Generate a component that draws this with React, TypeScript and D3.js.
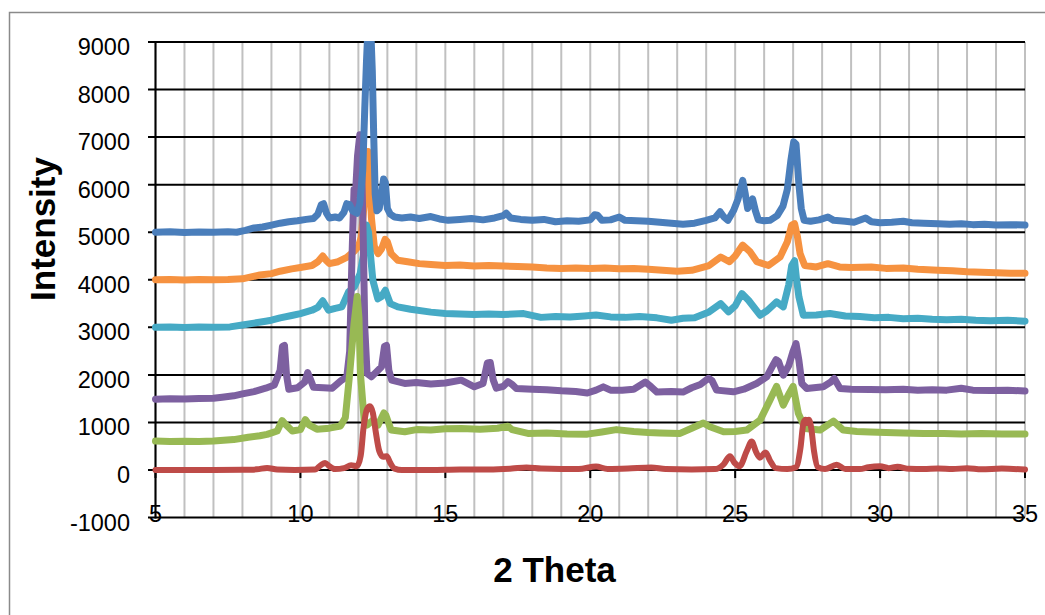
import React from "react";
import * as d3 from "d3";

type Pt = [number, number];

const xTicks = [5, 10, 15, 20, 25, 30, 35];
const yTicks = [-1000, 0, 1000, 2000, 3000, 4000, 5000, 6000, 7000, 8000, 9000];
const xTitle = "2 Theta";
const yTitle = "Intensity";

const blueData: Pt[] = [[5,5000],[5.5,5010],[6,4995],[6.5,5005],[7,5000],[7.5,5010],[7.8,5000],[8.1,5040],[8.4,5090],[8.7,5110],[9,5150],[9.3,5190],[9.6,5220],[9.9,5240],[10.2,5270],[10.45,5290],[10.6,5380],[10.72,5580],[10.8,5600],[10.9,5400],[11.0,5300],[11.2,5320],[11.35,5300],[11.5,5420],[11.6,5600],[11.7,5580],[11.8,5450],[11.95,5400],[12.05,5600],[12.15,6300],[12.22,7600],[12.28,8600],[12.33,9300],[12.42,9400],[12.48,8400],[12.53,7000],[12.58,5800],[12.64,5450],[12.72,5500],[12.8,5800],[12.87,6120],[12.93,6050],[13.0,5500],[13.1,5380],[13.25,5320],[13.5,5300],[13.8,5320],[14.1,5290],[14.5,5330],[14.8,5280],[15.1,5250],[15.5,5270],[15.9,5290],[16.3,5260],[16.7,5300],[17.0,5350],[17.1,5400],[17.25,5300],[17.6,5270],[18.0,5250],[18.4,5270],[18.8,5220],[19.2,5240],[19.6,5230],[20.0,5260],[20.15,5370],[20.25,5360],[20.4,5250],[20.7,5260],[21.0,5320],[21.2,5250],[21.6,5240],[22.0,5230],[22.4,5210],[22.8,5190],[23.2,5170],[23.6,5190],[24.0,5250],[24.3,5300],[24.48,5430],[24.6,5330],[24.75,5250],[24.95,5460],[25.1,5700],[25.26,6090],[25.35,5800],[25.43,5500],[25.6,5700],[25.7,5450],[25.8,5260],[26.0,5240],[26.2,5250],[26.45,5350],[26.65,5550],[26.8,5900],[26.92,6500],[27.02,6900],[27.1,6850],[27.2,6000],[27.28,5500],[27.38,5250],[27.6,5230],[27.9,5260],[28.2,5320],[28.4,5250],[28.8,5230],[29.1,5210],[29.5,5300],[29.7,5220],[30.0,5200],[30.4,5210],[30.8,5230],[31.1,5200],[31.5,5190],[32.0,5180],[32.4,5170],[32.8,5180],[33.2,5160],[33.6,5170],[34.0,5150],[34.5,5160],[35,5150]];

const orangeData: Pt[] = [[5,4000],[5.5,4005],[6,3995],[6.5,4005],[7,4000],[7.5,4005],[8.0,4020],[8.3,4060],[8.6,4100],[9.0,4130],[9.3,4180],[9.7,4230],[10.0,4260],[10.4,4300],[10.6,4380],[10.77,4500],[10.9,4400],[11.0,4340],[11.3,4380],[11.6,4470],[11.85,4600],[12.0,4700],[12.1,4900],[12.2,5600],[12.27,6300],[12.33,6700],[12.38,6300],[12.45,5300],[12.55,4700],[12.68,4550],[12.8,4650],[12.92,4850],[13.0,4800],[13.13,4550],[13.36,4410],[13.7,4380],[14.1,4340],[14.5,4320],[15.0,4300],[15.5,4310],[16.0,4290],[16.5,4300],[17.0,4290],[17.5,4280],[18.0,4270],[18.5,4250],[19.0,4240],[19.5,4250],[20.0,4240],[20.5,4250],[21.0,4230],[21.5,4240],[22.0,4220],[22.5,4200],[23.0,4180],[23.5,4200],[24.1,4300],[24.5,4480],[24.8,4380],[25.0,4500],[25.26,4730],[25.5,4600],[25.75,4380],[26.15,4300],[26.55,4480],[26.8,4800],[26.95,5150],[27.05,5180],[27.15,4900],[27.24,4550],[27.4,4300],[27.8,4270],[28.2,4340],[28.6,4270],[29.0,4260],[29.7,4270],[30.2,4240],[30.8,4250],[31.3,4220],[32.0,4200],[32.5,4190],[33.0,4170],[33.5,4160],[34.0,4150],[34.5,4140],[35,4140]];

const cyanData: Pt[] = [[5,3000],[5.5,3005],[6,2995],[6.5,3005],[7,3000],[7.57,3010],[8.0,3050],[8.4,3090],[8.8,3130],[9.0,3150],[9.3,3200],[9.7,3250],[10.0,3290],[10.4,3360],[10.6,3420],[10.77,3560],[10.97,3360],[11.2,3400],[11.43,3430],[11.66,3745],[11.86,3850],[12.06,4130],[12.2,4600],[12.28,5150],[12.35,5000],[12.42,4500],[12.5,3990],[12.67,3600],[12.8,3650],[12.93,3780],[13.1,3500],[13.36,3430],[13.8,3380],[14.5,3320],[15.0,3290],[15.5,3280],[16.0,3270],[16.5,3280],[17.0,3270],[17.7,3290],[18.3,3210],[18.8,3230],[19.3,3220],[19.8,3240],[20.2,3260],[20.7,3220],[21.2,3210],[21.7,3230],[22.3,3200],[22.8,3150],[23.2,3190],[23.6,3200],[24.1,3325],[24.5,3500],[24.77,3325],[25.0,3450],[25.23,3710],[25.46,3570],[25.86,3255],[26.1,3350],[26.43,3535],[26.66,3430],[26.85,3900],[26.95,4300],[27.05,4400],[27.12,4000],[27.2,3640],[27.35,3255],[27.8,3260],[28.27,3290],[28.8,3240],[29.3,3230],[29.8,3200],[30.3,3210],[30.8,3180],[31.3,3190],[31.8,3170],[32.3,3160],[32.8,3170],[33.3,3150],[33.8,3140],[34.4,3150],[35,3130]];

const purpleData: Pt[] = [[5,1490],[5.5,1500],[6,1495],[6.5,1505],[7,1510],[7.3,1530],[7.7,1560],[8.0,1600],[8.4,1650],[8.8,1720],[9.1,1790],[9.3,2100],[9.38,2600],[9.45,2620],[9.52,2000],[9.6,1700],[9.9,1730],[10.15,1850],[10.25,2050],[10.35,1900],[10.45,1740],[10.8,1730],[11.1,1720],[11.4,1880],[11.6,1960],[11.7,2500],[11.78,4500],[11.85,5900],[11.9,5800],[11.97,6600],[12.05,7050],[12.12,6200],[12.17,4800],[12.22,3000],[12.3,2030],[12.45,1960],[12.62,2060],[12.8,2170],[12.9,2600],[12.97,2620],[13.05,2100],[13.15,1890],[13.6,1820],[14.0,1840],[14.5,1810],[15.0,1830],[15.55,1890],[16.0,1750],[16.3,1820],[16.45,2250],[16.55,2260],[16.65,1900],[16.76,1720],[17.0,1760],[17.16,1860],[17.3,1800],[17.45,1715],[18.0,1700],[18.5,1690],[19.0,1665],[19.5,1650],[19.9,1620],[20.2,1680],[20.45,1750],[20.7,1680],[21.1,1680],[21.5,1700],[21.9,1850],[22.1,1750],[22.3,1640],[22.8,1650],[23.2,1640],[23.5,1730],[23.8,1800],[24.08,1930],[24.2,1880],[24.36,1680],[24.94,1645],[25.3,1700],[25.74,1820],[26.09,1960],[26.3,2200],[26.41,2320],[26.5,2280],[26.66,1995],[26.85,2200],[27.0,2500],[27.1,2660],[27.2,2300],[27.3,1820],[27.47,1715],[28.04,1750],[28.3,1850],[28.42,1925],[28.62,1715],[29.0,1700],[29.65,1695],[30.2,1690],[30.8,1700],[31.3,1680],[31.8,1690],[32.3,1680],[32.8,1720],[33.2,1680],[33.8,1670],[34.4,1680],[35,1660]];

const greenData: Pt[] = [[5,610],[5.5,600],[6,605],[6.5,600],[7,610],[7.7,640],[8.2,690],[8.6,720],[8.85,750],[9.2,820],[9.37,1040],[9.5,950],[9.72,820],[10.0,850],[10.17,1060],[10.3,950],[10.57,860],[11.0,880],[11.38,925],[11.55,1100],[11.7,2030],[11.85,3080],[11.96,3650],[12.02,3200],[12.07,2030],[12.2,1050],[12.3,945],[12.5,1050],[12.68,945],[12.88,1200],[12.95,1150],[13.13,840],[13.6,805],[14.0,850],[14.5,840],[15.0,870],[15.55,875],[16.2,860],[16.8,880],[17.16,920],[17.3,850],[17.85,770],[18.5,780],[19.2,760],[19.9,755],[20.4,800],[20.9,850],[21.5,810],[22.0,790],[22.4,780],[23.1,770],[23.5,880],[23.9,990],[24.13,910],[24.6,805],[25.0,810],[25.4,840],[25.86,1050],[26.2,1470],[26.43,1760],[26.66,1365],[26.85,1600],[27.0,1760],[27.18,1190],[27.41,875],[27.93,840],[28.39,1030],[28.73,840],[29.2,810],[29.65,800],[30.2,790],[30.8,780],[31.5,770],[32.2,770],[32.8,760],[33.5,770],[34.2,760],[35,760]];

const redData: Pt[] = [[5,0],[6,0],[7,0],[8,5],[8.5,15],[8.85,45],[9.2,10],[9.8,0],[10.5,10],[10.7,100],[10.85,150],[11.0,80],[11.2,20],[11.5,40],[11.75,100],[11.95,80],[12.08,300],[12.18,900],[12.3,1280],[12.4,1340],[12.5,1200],[12.6,800],[12.72,400],[12.85,280],[12.98,290],[13.1,150],[13.25,30],[13.5,0],[14.5,0],[15.5,10],[16.5,10],[17.3,30],[17.8,55],[18.3,30],[19.0,20],[19.6,20],[20.2,75],[20.6,20],[21.3,30],[22.1,55],[22.6,20],[23.5,10],[24.3,20],[24.6,120],[24.82,290],[24.98,150],[25.15,80],[25.4,400],[25.57,600],[25.72,380],[25.85,260],[26.05,370],[26.2,200],[26.4,40],[26.8,20],[27.1,60],[27.25,450],[27.36,1000],[27.43,1060],[27.48,990],[27.54,1060],[27.62,900],[27.72,400],[27.85,60],[28.1,20],[28.5,110],[28.8,20],[29.3,20],[29.6,60],[30.0,80],[30.3,40],[30.6,70],[31.0,25],[31.5,20],[32.0,30],[32.5,20],[33.0,40],[33.5,15],[34.2,30],[35,10]];

const seriesNames = ["orange", "cyan", "purple", "green", "red", "blue"];
const seriesData: Pt[][] = [orangeData, cyanData, purpleData, greenData, redData, blueData];
const seriesColors = ["#F69240", "#46AAC5", "#7D60A0", "#98B954", "#BE4B48", "#4A7EBB"];

export default function App() {
  const L = 155.5, R = 1025, T = 42, B = 517.6;
  const x = d3.scaleLinear().domain([5, 35]).range([L, R]);
  const y = d3.scaleLinear().domain([-1000, 9000]).range([B, T]);
  const minorX = d3.range(5, 35.001, 1);
  const lineLinear = d3.line<Pt>().x((d) => x(d[0])).y((d) => y(d[1]));
  const lineSmooth = d3.line<Pt>().x((d) => x(d[0])).y((d) => y(d[1])).curve(d3.curveMonotoneX);
  const font = "'Liberation Sans', Arial, sans-serif";

  return (
    <svg
      width={1045}
      height={615}
      style={{ position: "absolute", left: 0, top: 0, background: "#fff" }}
    >
      <defs>
        <clipPath id="plotClip">
          <rect x={L - 4} y={T - 1} width={R - L + 8} height={B - T + 1} />
        </clipPath>
      </defs>
      <rect x={9.5} y={12.5} width={1060} height={640} fill="#fff" stroke="#8a8a8a" strokeWidth={1.5} />
      {minorX.map((t) => (
        <line key={"vx" + t} x1={x(t)} x2={x(t)} y1={T} y2={B} stroke="#c0c0c0" strokeWidth={2} />
      ))}
      {yTicks.map((v) => (
        <line key={"hy" + v} x1={L - 7.5} x2={R} y1={y(v)} y2={y(v)} stroke="#000" strokeWidth={2} />
      ))}
      <line x1={L} x2={L} y1={T} y2={B + 1} stroke="#000" strokeWidth={2} />
      {xTicks.map((t) => (
        <line key={"xt" + t} x1={x(t)} x2={x(t)} y1={y(0)} y2={y(0) + 8} stroke="#000" strokeWidth={2} />
      ))}
      <g clipPath="url(#plotClip)">
        {seriesData.map((d, i) => (
          <path
            key={seriesNames[i]}
            d={(seriesNames[i] === "red" ? lineSmooth(d) : lineLinear(d)) || ""}
            fill="none"
            stroke={seriesColors[i]}
            strokeWidth={seriesNames[i] === "red" ? 6 : 7}
            strokeLinejoin="round"
            strokeLinecap="round"
          />
        ))}
      </g>
      {yTicks.map((v) => (
        <text key={"yl" + v} x={130} y={y(v) + 13} textAnchor="end" fontFamily={font} fontSize={23.5} fill="#000">
          {v}
        </text>
      ))}
      {xTicks.map((t) => (
        <text key={"xl" + t} x={x(t)} y={522} textAnchor="middle" fontFamily={font} fontSize={23.5} fill="#000">
          {t}
        </text>
      ))}
      <text x={554.5} y={582} textAnchor="middle" fontFamily={font} fontWeight="bold" fontSize={35} fill="#000">
        {xTitle}
      </text>
      <text
        transform={`translate(55,229) rotate(-90)`}
        textAnchor="middle"
        fontFamily={font}
        fontWeight="bold"
        fontSize={35}
        fill="#000"
      >
        {yTitle}
      </text>
    </svg>
  );
}
